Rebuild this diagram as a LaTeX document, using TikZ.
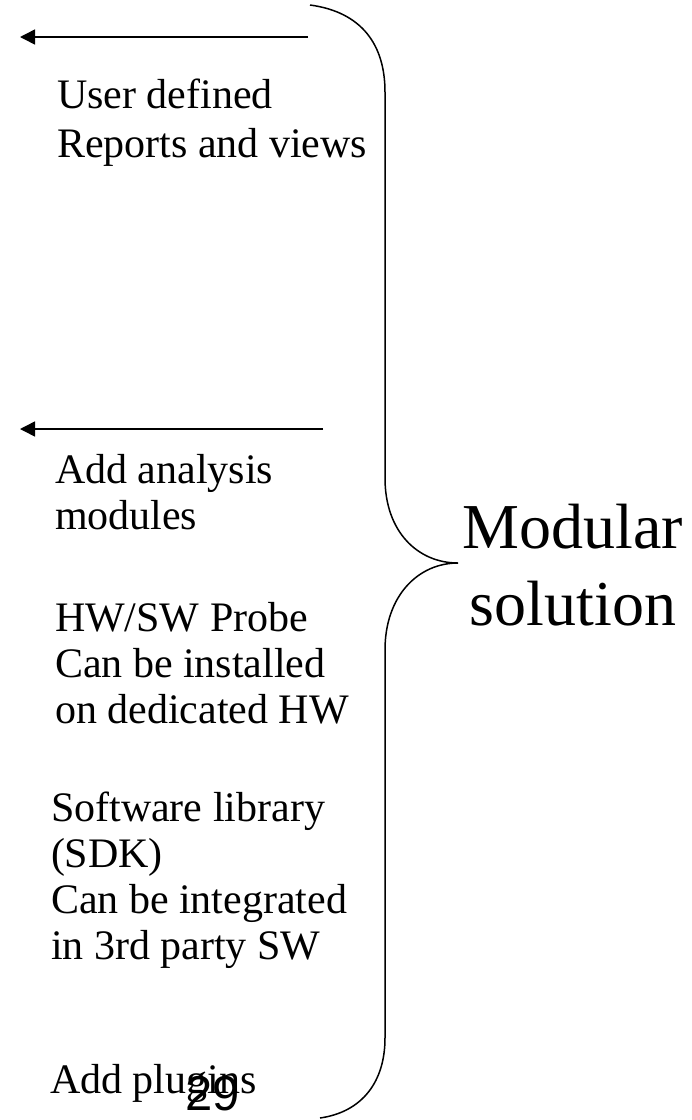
\documentclass[tikz,border=0pt]{standalone}
\usepackage{fontspec}
\setmainfont{Liberation Serif}
\newfontfamily\pagenumfont{Liberation Sans}
\usetikzlibrary{arrows.meta}

\begin{document}
\begin{tikzpicture}[x=1pt, y=-1pt, line width=1.5pt]
        \tikzstyle{every node}=[inner sep=0pt, outer sep=0pt]
        \tikzstyle{item}=[anchor=base west, align=left, font=\fontsize{42}{46}\selectfont]
        \tikzset{pointer/.style={arrows={-Triangle[length=15pt, width=15pt]}}}

        \useasboundingbox (0,0) rectangle (692,1120);

% arrows pointing left, and the brace on the right
        \coordinate (a1from) at (308,37);
        \coordinate (a1to) at (20,37);
        \coordinate (a2from) at (323,429);
        \coordinate (a2to) at (20,429);
        \coordinate (tip) at (458,563);

        \draw[pointer] (a1from) -- (a1to);
        \draw[pointer] (a2from) -- (a2to);

        \draw (310,5) .. controls (362,12) and (385,45) .. (385,92)
              -- (385,478) .. controls (385,532) and (418,563) .. (tip)
              .. controls (418,563) and (385,596) .. (385,650)
              -- (385,1038) .. controls (385,1082) and (362,1112) .. (320,1118);

% anchor base sits on the last line of each block
        \node[item, font=\fontsize{42}{49}\selectfont] (user) at (57,157) {User defined\\Reports and views};
        \node[item] (analysis) at (55,529) {Add analysis\\modules};
        \node[item] (probe) at (55,723) {HW/SW Probe\\Can be installed\\on dedicated HW};
        \node[item] (sdk) at (51,959) {Software library\\(SDK)\\Can be integrated\\in 3rd party SW};
        \node[item] (plugins) at (50,1093) {Add plugins};

        \node[anchor=base, align=center, font=\fontsize{64}{77}\selectfont] (modular) at (573,625) {Modular\\solution};

        \node[anchor=base west, font=\pagenumfont\fontsize{49}{49}\selectfont] (pagenum) at (185,1110) {29};

    \end{tikzpicture}
\end{document}
